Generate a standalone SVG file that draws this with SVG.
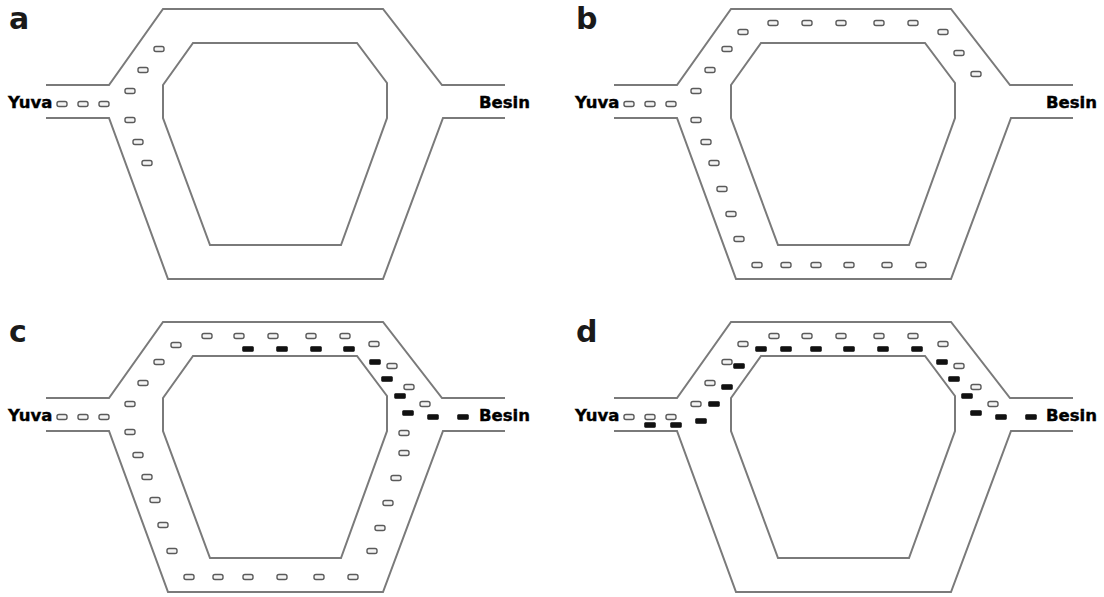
<svg xmlns="http://www.w3.org/2000/svg" xmlns:xlink="http://www.w3.org/1999/xlink" width="1104" height="597" viewBox="0 0 1104 597">
<style>
.trk{fill:none;stroke:#7a7a7a;stroke-width:2;stroke-linejoin:miter}
.ao{fill:#f4f4f4;stroke:#5a5a5a;stroke-width:1.4}
.ab{fill:#111;stroke:#111;stroke-width:0.6}
.pl{font-family:"DejaVu Sans",Verdana,sans-serif;font-weight:bold;font-size:30px;fill:#1a1a1a}
.lb{font-family:"DejaVu Sans",Verdana,sans-serif;font-weight:bold;font-size:16.5px;fill:#000;stroke:#000;stroke-width:0.4}
</style>
<defs>
<g id="track">
<path class="trk" d="M46,85 L109,85 L163,9 L383,9 L442,85 L505,85"/>
<path class="trk" d="M46,118 L109,118 L168,279 L383,279 L443,118 L505,118"/>
<path class="trk" d="M193,43 L357,43 L387,83 L387,118 L341,245 L210,245 L163,118 L163,85 Z"/>
</g>
<rect id="ao" class="ao" x="-5" y="-2.5" width="10" height="5" rx="2"/>
<rect id="ab" class="ab" x="-5.5" y="-2.5" width="11" height="5" rx="1"/>
</defs>
<rect width="1104" height="597" fill="#fff"/>

<g id="panel-a">
<use xlink:href="#track"/>
<text class="pl" x="9" y="29">a</text>
<text class="lb" x="8" y="108">Yuva</text>
<text class="lb" x="479" y="108">Besin</text>
<g id="ants-a">
<use xlink:href="#ao" x="62" y="104"/><use xlink:href="#ao" x="83" y="104"/><use xlink:href="#ao" x="104" y="104"/>
<use xlink:href="#ao" x="159" y="49"/><use xlink:href="#ao" x="143" y="70"/><use xlink:href="#ao" x="130" y="91"/>
<use xlink:href="#ao" x="130" y="120"/><use xlink:href="#ao" x="138" y="142"/><use xlink:href="#ao" x="147" y="163"/>
</g>
</g>

<g id="panel-b" transform="translate(568,0)">
<use xlink:href="#track"/>
<text class="pl" x="8" y="29">b</text>
<text class="lb" x="7" y="108">Yuva</text>
<text class="lb" x="478" y="108">Besin</text>
<g id="ants-b">
<use xlink:href="#ao" x="61" y="104"/><use xlink:href="#ao" x="82" y="104"/><use xlink:href="#ao" x="103" y="104"/>
<use xlink:href="#ao" x="128" y="91"/><use xlink:href="#ao" x="142" y="70"/><use xlink:href="#ao" x="159" y="49"/>
<use xlink:href="#ao" x="175" y="32"/><use xlink:href="#ao" x="205" y="23"/><use xlink:href="#ao" x="239" y="23"/>
<use xlink:href="#ao" x="273" y="23"/><use xlink:href="#ao" x="311" y="23"/><use xlink:href="#ao" x="345" y="23"/>
<use xlink:href="#ao" x="375" y="32"/><use xlink:href="#ao" x="391" y="53"/><use xlink:href="#ao" x="408" y="74"/>
<use xlink:href="#ao" x="128" y="120"/><use xlink:href="#ao" x="138" y="142"/><use xlink:href="#ao" x="146" y="163"/>
<use xlink:href="#ao" x="154" y="189"/><use xlink:href="#ao" x="163" y="214"/><use xlink:href="#ao" x="171" y="239"/>
<use xlink:href="#ao" x="189" y="265"/><use xlink:href="#ao" x="218" y="265"/><use xlink:href="#ao" x="248" y="265"/>
<use xlink:href="#ao" x="281" y="265"/><use xlink:href="#ao" x="319" y="265"/><use xlink:href="#ao" x="353" y="265"/>
</g>
</g>

<g id="panel-c" transform="translate(0,313)">
<use xlink:href="#track"/>
<text class="pl" x="9" y="29">c</text>
<text class="lb" x="8" y="108">Yuva</text>
<text class="lb" x="479" y="108">Besin</text>
<g id="ants-c">
<use xlink:href="#ao" x="62" y="104"/><use xlink:href="#ao" x="83" y="104"/><use xlink:href="#ao" x="104" y="104"/>
<use xlink:href="#ao" x="130" y="91"/><use xlink:href="#ao" x="143" y="70"/><use xlink:href="#ao" x="159" y="49"/>
<use xlink:href="#ao" x="176" y="32"/><use xlink:href="#ao" x="207" y="23"/><use xlink:href="#ao" x="239" y="23"/>
<use xlink:href="#ao" x="273" y="23"/><use xlink:href="#ao" x="311" y="23"/><use xlink:href="#ao" x="345" y="23"/>
<use xlink:href="#ao" x="374" y="31"/><use xlink:href="#ao" x="392" y="53"/><use xlink:href="#ao" x="409" y="74"/>
<use xlink:href="#ao" x="425" y="91"/>
<use xlink:href="#ab" x="248" y="36"/><use xlink:href="#ab" x="282" y="36"/><use xlink:href="#ab" x="316" y="36"/>
<use xlink:href="#ab" x="349" y="36"/><use xlink:href="#ab" x="375" y="49"/><use xlink:href="#ab" x="387" y="66"/>
<use xlink:href="#ab" x="400" y="83"/><use xlink:href="#ab" x="408" y="100"/><use xlink:href="#ab" x="433" y="104"/>
<use xlink:href="#ab" x="463" y="104"/>
<use xlink:href="#ao" x="130" y="119"/><use xlink:href="#ao" x="138" y="142"/><use xlink:href="#ao" x="147" y="164"/>
<use xlink:href="#ao" x="155" y="187"/><use xlink:href="#ao" x="163" y="212"/><use xlink:href="#ao" x="172" y="238"/>
<use xlink:href="#ao" x="189" y="264"/><use xlink:href="#ao" x="218" y="264"/><use xlink:href="#ao" x="248" y="264"/>
<use xlink:href="#ao" x="282" y="264"/><use xlink:href="#ao" x="319" y="264"/><use xlink:href="#ao" x="353" y="264"/>
<use xlink:href="#ao" x="372" y="238"/><use xlink:href="#ao" x="380" y="215"/><use xlink:href="#ao" x="388" y="190"/>
<use xlink:href="#ao" x="396" y="165"/><use xlink:href="#ao" x="404" y="140"/><use xlink:href="#ao" x="404" y="120"/>
</g>
</g>

<g id="panel-d" transform="translate(568,313)">
<use xlink:href="#track"/>
<text class="pl" x="8" y="29">d</text>
<text class="lb" x="7" y="108">Yuva</text>
<text class="lb" x="478" y="108">Besin</text>
<g id="ants-d">
<use xlink:href="#ao" x="61" y="104"/><use xlink:href="#ao" x="82" y="104"/><use xlink:href="#ao" x="103" y="104"/>
<use xlink:href="#ao" x="128" y="91"/><use xlink:href="#ao" x="142" y="70"/><use xlink:href="#ao" x="159" y="49"/>
<use xlink:href="#ao" x="175" y="31"/><use xlink:href="#ao" x="206" y="23"/><use xlink:href="#ao" x="239" y="23"/>
<use xlink:href="#ao" x="273" y="23"/><use xlink:href="#ao" x="311" y="23"/><use xlink:href="#ao" x="345" y="23"/>
<use xlink:href="#ao" x="375" y="31"/><use xlink:href="#ao" x="391" y="53"/><use xlink:href="#ao" x="408" y="74"/>
<use xlink:href="#ao" x="425" y="91"/>
<use xlink:href="#ab" x="82" y="112"/><use xlink:href="#ab" x="108" y="112"/><use xlink:href="#ab" x="133" y="108"/>
<use xlink:href="#ab" x="146" y="91"/><use xlink:href="#ab" x="159" y="74"/><use xlink:href="#ab" x="171" y="53"/>
<use xlink:href="#ab" x="193" y="36"/><use xlink:href="#ab" x="218" y="36"/><use xlink:href="#ab" x="248" y="36"/>
<use xlink:href="#ab" x="281" y="36"/><use xlink:href="#ab" x="315" y="36"/><use xlink:href="#ab" x="349" y="36"/>
<use xlink:href="#ab" x="374" y="49"/><use xlink:href="#ab" x="386" y="66"/><use xlink:href="#ab" x="399" y="83"/>
<use xlink:href="#ab" x="408" y="100"/><use xlink:href="#ab" x="433" y="104"/><use xlink:href="#ab" x="463" y="104"/>
</g>
</g>
</svg>
